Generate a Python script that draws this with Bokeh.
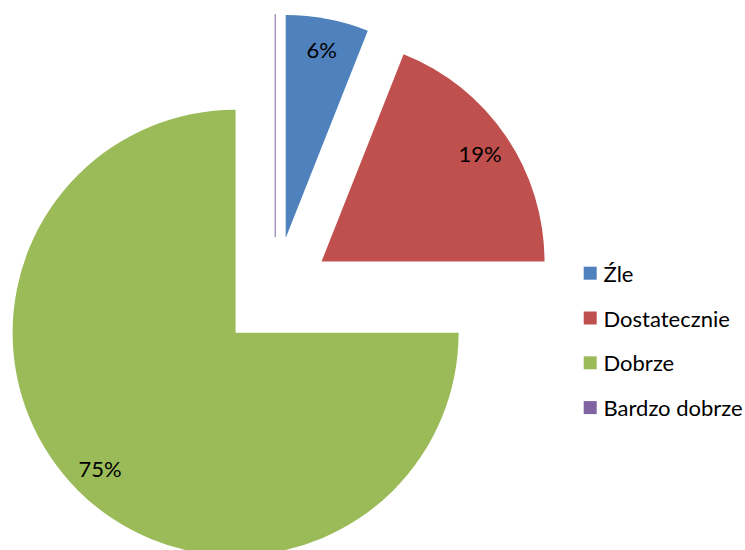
import numpy as np
from bokeh.plotting import figure
from bokeh.models import Range1d, ColumnDataSource
from bokeh.core.properties import value
from bokeh.embed import file_html
from bokeh.resources import INLINE

# ---- data ----
categories = ["Źle", "Dostatecznie", "Dobrze", "Bardzo dobrze"]
percent = [6, 19, 75, 0]
colors = ["#4F81BD", "#C0504D", "#9BBB59", "#8064A2"]

# ---- layout (pixels) ----
W, H = 745, 550
R = 223            # pie radius
EXPLODE = 56       # explosion distance of every slice
CX, CY = 274.7, 292.6   # pie centre, px from figure left / top
LABEL_R = 0.86 * R
FONT = "Lato"
FSIZE = "22px"
LEG_FSIZE = "22px"

total = float(sum(percent))
frac = np.array(percent, dtype=float) / total
cum = np.concatenate([[0.0], np.cumsum(frac)])
start = np.pi / 2 - cum[1:] * 2 * np.pi
end = np.pi / 2 - cum[:-1] * 2 * np.pi
mid = (start + end) / 2
ox = EXPLODE * np.cos(mid)
oy = EXPLODE * np.sin(mid)

p = figure(width=W, height=H, output_backend="svg", toolbar_location=None,
           x_range=Range1d(-CX, W - CX), y_range=Range1d(-(H - CY), CY),
           min_border=0, outline_line_color=None, background_fill_color="white",
           border_fill_color="white")
p.axis.visible = False
p.grid.visible = False

nz = frac > 0
src = ColumnDataSource(dict(x=ox[nz], y=oy[nz], s=start[nz], e=end[nz],
                            c=[c for c, k in zip(colors, nz) if k]))
p.wedge(x="x", y="y", radius=R, start_angle="s", end_angle="e",
        fill_color="c", line_color=None, source=src)

# zero-size slices drawn as a thin radius line
z = ~nz
if z.any():
    p.segment(x0=ox[z], y0=oy[z], x1=ox[z] + R * np.cos(mid[z]),
              y1=oy[z] + R * np.sin(mid[z]),
              line_color=[c for c, k in zip(colors, z) if k], line_width=1)

# percentage labels
lab_txt = [f"{round(v)}%" for v, k in zip(np.array(percent) / total * 100, nz) if k]
p.text(x=ox[nz] + LABEL_R * np.cos(mid[nz]), y=oy[nz] + LABEL_R * np.sin(mid[nz]),
       text=lab_txt, text_align="center", text_baseline="middle",
       text_font=value(FONT), text_font_size=FSIZE, text_color="black")

# legend
LEG_X = 315.0
LEG_Y0 = 19.9
LEG_DY = 44.8
ly = [LEG_Y0 - i * LEG_DY for i in range(len(categories))]
p.scatter(x=[LEG_X] * len(categories), y=ly, marker="square", size=13,
          fill_color=colors, line_color=None)
p.text(x=[LEG_X + 13.3] * len(categories), y=ly, text=categories,
       text_align="left", text_baseline="middle",
       text_font=value(FONT), text_font_size=LEG_FSIZE, text_color="black")

open("out.html", "w").write(file_html(p, INLINE))
